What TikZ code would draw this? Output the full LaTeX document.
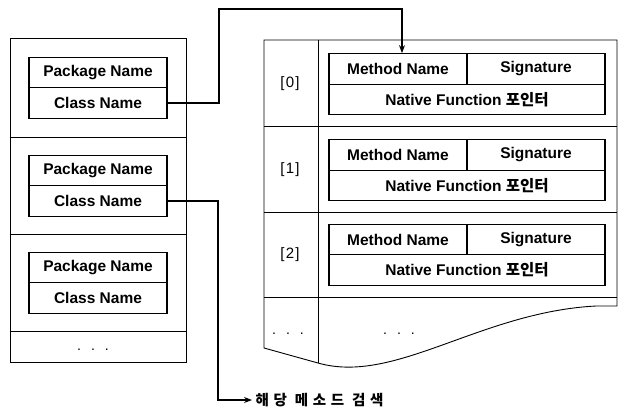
\documentclass[tikz,border=0pt]{standalone}
\usepackage{fontspec}
\setmainfont{Liberation Sans}
\newfontfamily\kr{Noto Sans CJK KR}
\usetikzlibrary{arrows.meta}

\tikzset{
  frame/.style={line width=0.9pt},
  cell/.style={draw, line width=1.3pt, minimum width=138pt, minimum height=30.5pt,
    inner sep=0pt, font=\fontsize{15.5}{15.5}\selectfont\bfseries},
  wide/.style={cell, minimum width=276pt},
  idx/.style={font=\fontsize{15}{15}\selectfont\addfontfeature{LetterSpace=8}},
  more/.style={anchor=base, font=\fontsize{14}{14}\selectfont},
  link/.style={line width=1.1pt, -{Stealth[length=8pt,width=6pt]}}
}

\begin{document}
\begin{tikzpicture}[x=1pt,y=-1pt]
\useasboundingbox (0,0) rectangle (622,410);

% class table
\draw[frame] (10,38) rectangle (186,362);
\foreach \y in {137,234,331}
  \draw[frame] (10,\y) -- (186,\y);
\node[cell] (pkg0) at (98,72.5) {Package Name};
\node[cell] (cls0) at (98,103) {Class Name};
\node[cell] (pkg1) at (98,170.5) {Package Name};
\node[cell] (cls1) at (98,201) {Class Name};
\node[cell] (pkg2) at (98,267.5) {Package Name};
\node[cell] (cls2) at (98,298) {Class Name};
\node[more] (dotsL) at (93,350) {.\hspace{10pt}.\hspace{10pt}.};

% method table with torn bottom edge
\draw[frame] (264,348) -- (264,40) -- (617,40) -- (617,306) -- (596,306)
  .. controls (480,312) and (395,385) .. (318,363) -- cycle;
\draw[frame] (318,40) -- (318,363);
\foreach \y in {126,212,297}
  \draw[frame] (264,\y) -- (617,\y);

\foreach \i/\y in {0/69,1/155,2/239.5} {
  \node[idx] (idx\i) at (290,\y+15) {[\i]};
  \node[cell] (mth\i) at (398,\y) {Method Name};
  \node[cell] (sig\i) at (536,\y) {Signature};
  \node[wide] (nat\i) at (467,\y+30.5) {Native Function {\kr 포인터}};
}
\node[more] (dotsA) at (288,334) {.\hspace{10pt}.\hspace{10pt}.};
\node[more] (dotsB) at (399,334) {.\hspace{10pt}.\hspace{10pt}.};

% lookups
\coordinate (bend0) at (219,9);
\draw[link] (cls0.east) -| (bend0) -| ([xshift=4pt]mth0.north);

\node[anchor=west, font=\kr\fontsize{14.5}{14.5}\selectfont\bfseries\addfontfeature{LetterSpace=32}]
  (search) at (252,400) {해당 메소드 검색};
\coordinate (bend1) at (218,400);
\draw[link] (cls1.east) -| (bend1) -- (search.west);
\end{tikzpicture}
\end{document}
